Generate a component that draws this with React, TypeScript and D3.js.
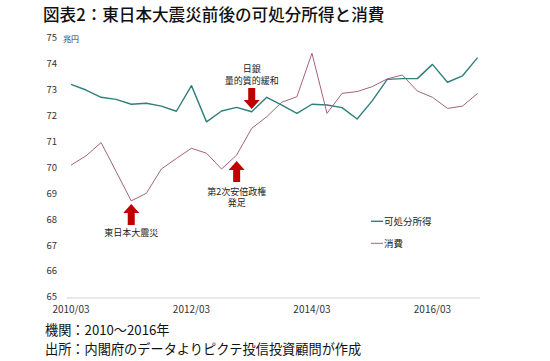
import React, { useEffect, useRef } from 'react';
import * as d3 from 'd3';

// quarterly labels 2010/03 .. 2016/12
const quarters: string[] = [];
for (let y = 2010; y <= 2016; y++) {
  ['03', '06', '09', '12'].forEach((m) => quarters.push(`${y}/${m}`));
}

const incomeValues = [
  73.25, 73.03, 72.75, 72.67, 72.48, 72.52, 72.41, 72.21, 73.2, 71.8,
  72.22, 72.36, 72.19, 72.75, 72.45, 72.13, 72.48, 72.45, 72.35, 71.91,
  72.61, 73.44, 73.47, 73.47, 74.02, 73.33, 73.58, 74.28,
];

const consumptionValues = [
  70.13, 70.49, 71.0, 69.88, 68.75, 69.04, 69.98, 70.39, 70.78, 70.59,
  69.98, 70.52, 71.55, 72.0, 72.56, 72.77, 74.45, 72.13, 72.9, 72.97,
  73.16, 73.46, 73.61, 72.99, 72.75, 72.32, 72.41, 72.9,
];

const yTicks = [65, 66, 67, 68, 69, 70, 71, 72, 73, 74, 75];
const xTickLabels = ['2010/03', '2012/03', '2014/03', '2016/03'];

const seriesInfo = [
  { name: '可処分所得', values: incomeValues, color: '#2f7f7b', width: 1.4 },
  { name: '消費', values: consumptionValues, color: '#a5627e', width: 1 },
];

const events = [
  { lines: ['東日本大震災'], quarter: '2011/03', dir: 'up' },
  { lines: ['第2次安倍政権', '発足'], quarter: '2012/12', dir: 'up' },
  { lines: ['日銀', '量的質的緩和'], quarter: '2013/03', dir: 'down' },
];

const FONT = '"Noto Sans CJK JP", "Noto Sans", sans-serif';

function App() {
  const ref = useRef<SVGSVGElement>(null);

  useEffect(() => {
    const width = 550;
    const height = 361;
    const svg = d3.select(ref.current);
    svg.selectAll('*').remove();
    svg.attr('width', width).attr('height', height);

    const x = d3.scalePoint<string>().domain(quarters).range([71, 477.6]);
    const y = d3.scaleLinear().domain([65, 75]).range([298, 39]);

    // title
    svg
      .append('text')
      .attr('x', 43)
      .attr('y', 21)
      .style('font-family', FONT)
      .style('font-size', '16.6px')
      .style('font-weight', 500)
      .style('fill', '#111')
      .text('図表2：東日本大震災前後の可処分所得と消費');

    // baseline
    svg
      .append('line')
      .attr('x1', 67)
      .attr('x2', 480)
      .attr('y1', y(65))
      .attr('y2', y(65))
      .style('stroke', '#e2e2e2')
      .style('stroke-width', 1.5);

    // y axis labels
    svg
      .append('g')
      .selectAll('text')
      .data(yTicks)
      .enter()
      .append('text')
      .attr('x', 57)
      .attr('y', (d) => y(d) - 1)
      .attr('dy', '0.35em')
      .attr('text-anchor', 'end')
      .style('font-family', FONT)
      .style('font-size', '9.5px')
      .style('fill', '#333')
      .text((d) => d);

    svg
      .append('text')
      .attr('x', 63)
      .attr('y', y(75))
      .attr('dy', '0.35em')
      .style('font-family', FONT)
      .style('font-size', '8px')
      .style('fill', '#333')
      .text('兆円');

    // x axis labels
    svg
      .append('g')
      .selectAll('text')
      .data(xTickLabels)
      .enter()
      .append('text')
      .attr('x', (d) => x(d) as number)
      .attr('y', 309)
      .attr('dy', '0.35em')
      .attr('text-anchor', 'middle')
      .style('font-family', FONT)
      .style('font-size', '10px')
      .style('fill', '#333')
      .text((d) => d);

    // lines
    const line = d3
      .line<number>()
      .x((d, i) => x(quarters[i]) as number)
      .y((d) => y(d));

    seriesInfo.forEach((s) => {
      svg
        .append('path')
        .datum(s.values)
        .attr('d', line)
        .style('fill', 'none')
        .style('stroke', s.color)
        .style('stroke-width', s.width)
        .style('stroke-linejoin', 'round');
    });

    // legend
    const legend = svg
      .append('g')
      .selectAll('g')
      .data(seriesInfo)
      .enter()
      .append('g')
      .attr('transform', (d, i) => `translate(371, ${221.3 + i * 22})`);
    legend
      .append('line')
      .attr('x1', 0)
      .attr('x2', 12)
      .style('stroke', (d) => d.color)
      .style('stroke-width', (d) => d.width);
    legend
      .append('text')
      .attr('x', 13)
      .attr('dy', '0.35em')
      .style('font-family', FONT)
      .style('font-size', '9.5px')
      .style('fill', '#222')
      .text((d) => d.name);

    // event arrows
    const arrowPath = (cx: number, tip: number, dir: string) => {
      const s = dir === 'up' ? 1 : -1;
      const headH = 9;
      const total = 21;
      const hw = 8;
      const sw = 3.5;
      const pts = [
        [cx, tip],
        [cx + hw, tip + s * headH],
        [cx + sw, tip + s * headH],
        [cx + sw, tip + s * total],
        [cx - sw, tip + s * total],
        [cx - sw, tip + s * headH],
        [cx - hw, tip + s * headH],
      ];
      return 'M' + pts.map((p) => p.join(',')).join('L') + 'Z';
    };

    const eventPos: Record<string, { tip: number; textY: number }> = {
      '2011/03': { tip: 204, textY: 233 },
      '2012/12': { tip: 161, textY: 191.5 },
      '2013/03': { tip: 109, textY: 69 },
    };

    events.forEach((ev) => {
      const cx = x(ev.quarter) as number;
      const pos = eventPos[ev.quarter];
      svg
        .append('path')
        .attr('d', arrowPath(cx, pos.tip, ev.dir))
        .style('fill', '#c00000');
      ev.lines.forEach((ln, i) => {
        svg
          .append('text')
          .attr('x', cx)
          .attr('y', pos.textY + i * 11.8)
          .attr('dy', '0.35em')
          .attr('text-anchor', 'middle')
          .style('font-family', FONT)
          .style('font-size', '9px')
          .style('fill', '#222')
          .text(ln);
      });
    });

    // notes
    const notes = ['機関：2010～2016年', '出所：内閣府のデータよりピクテ投信投資顧問が作成'];
    svg
      .append('g')
      .selectAll('text')
      .data(notes)
      .enter()
      .append('text')
      .attr('x', 45)
      .attr('y', (d, i) => 330 + i * 19)
      .attr('dy', '0.35em')
      .style('font-family', FONT)
      .style('font-size', '13.2px')
      .style('fill', '#111')
      .text((d) => d);
  }, []);

  return <svg ref={ref} style={{ position: 'absolute', left: 0, top: 0, background: '#fff' }} />;
}

export default App;
